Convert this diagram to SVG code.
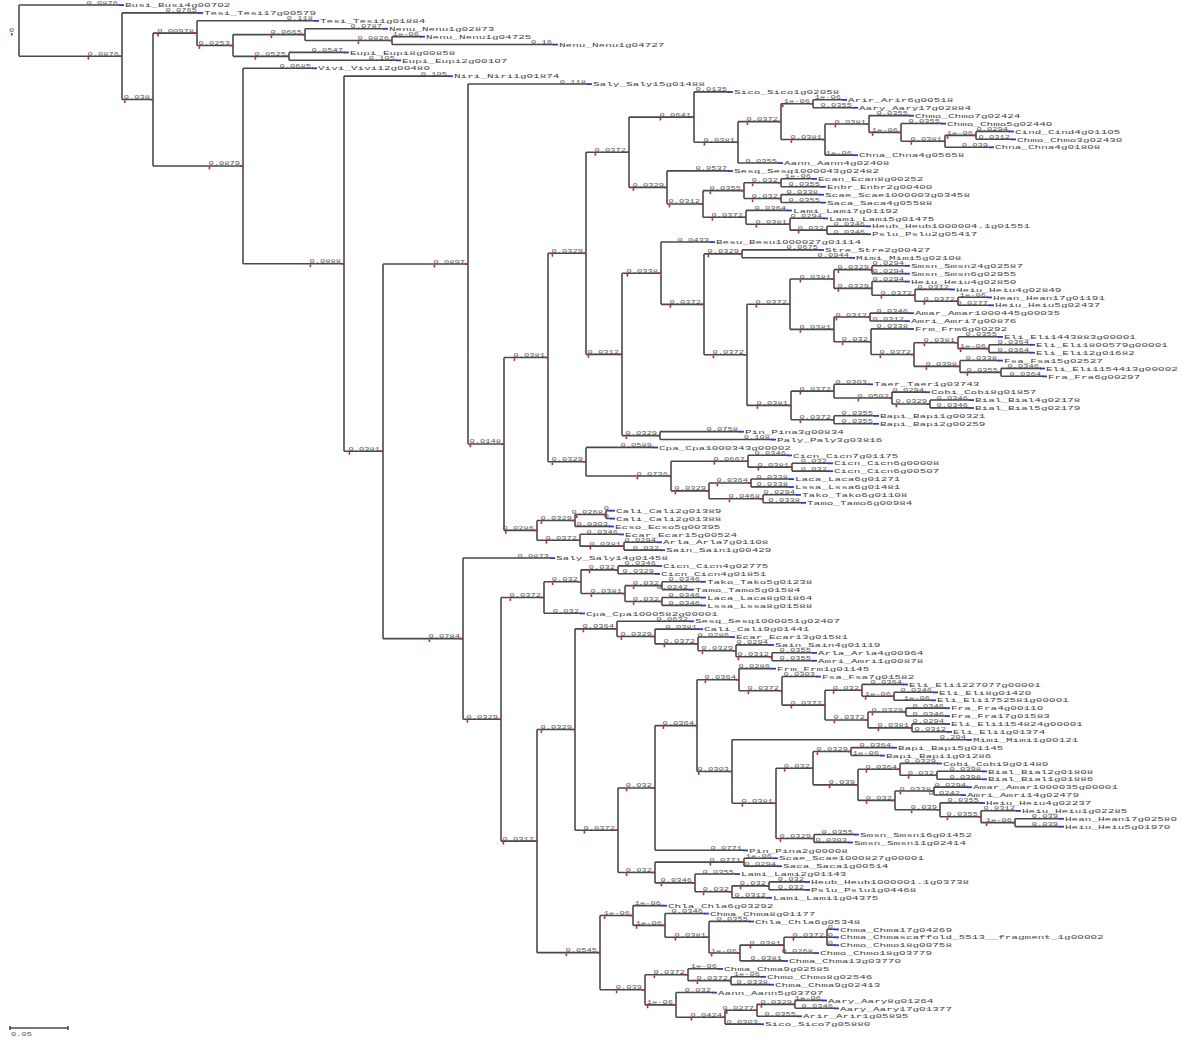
<svg xmlns="http://www.w3.org/2000/svg" width="1200" height="1040" viewBox="0 0 1200 1040">
<style>
.br{fill:none;stroke:#4a4a4a;stroke-width:1.6}
.b{font-family:"Liberation Mono",monospace;font-size:4.6px;fill:#555;text-anchor:end}
.s{text-anchor:start}
.t{font-family:"Liberation Mono",monospace;font-size:5px;fill:#444}
</style>
<defs>
<rect id="bm" width="5" height="1.8" fill="#2b3bd1"/>
<rect id="rj" width="2.5" height="1.6" fill="#d42020"/>
<rect id="rs" width="1.6" height="2.6" fill="#d42020"/>
</defs>
<rect width="1200" height="1040" fill="#fff"/>
<g id="connectors" class="br">
<path d="M19 5V56.2M19 5H120M19 56.2H122M122 12.9V99.55M122 12.9H199M122 99.55H153M153 33.15V165.95M153 33.15H197M197 20.8V45.5M197 20.8H315M197 45.5H233M233 34.6V56.35M233 34.6H305M305 28.7V40.55M305 28.7H384M305 40.55H392M392 36.6V44.5M392 36.6H421M392 44.5H554M233 56.35H289M289 52.4V60.3M289 52.4H345M289 60.3H397M153 165.95H243M243 68.2V263.7M243 68.2H313M243 263.7H344M344 76.1V451.3M344 76.1H449M344 451.3H383M383 264V638.65M383 264H468M468 84V443.95M468 84H588M468 443.95H504M504 357.5V530.4M504 357.5H548M548 253.3V461.7M548 253.3H586M586 152.25V354.4"/>
<path d="M586 152.25H629M629 117.1V187.4M629 117.1H694M694 91.9V142.3M694 91.9H729M694 142.3H738M738 121.65V163M738 121.65H781M781 103.75V139.55M781 103.75H813M813 99.8V107.7M813 99.8H843M813 107.7H854M781 139.55H825M825 124V155.1M825 124H869M869 115.6V132.4M869 115.6H910M869 132.4H901M901 123.5V141.3M901 123.5H942M901 141.3H945M945 135.35V147.2M945 135.35H976M976 131.4V139.3M976 131.4H1010M976 139.3H1012M945 147.2H990M825 155.1H854M738 163H779M629 187.4H667M667 170.9V203.95M667 170.9H729M667 203.95H703M703 190.65V217.3M703 190.65H744M744 182.75V198.55M744 182.75H781M781 178.8V186.7M781 178.8H813M781 186.7H822M744 198.55H781M781 194.6V202.5M781 194.6H820M781 202.5H822M703 217.3H746M746 210.4V224.2M746 210.4H788M746 224.2H790M790 218.3V230.15M790 218.3H824M790 230.15H827M827 226.2V234.1M827 226.2H867M827 234.1H867"/>
<path d="M586 354.4H622M622 273.2V435.6M622 273.2H661M661 242V304.35M661 242H711M661 304.35H704M704 253.9V354.8M704 253.9H742M742 249.9V257.8M742 249.9H820M742 257.8H851M704 354.8H747M747 304.2V405.4M747 304.2H790M790 279V329.4M790 279H834M834 269.65V288.4M834 269.65H872M872 265.7V273.6M872 265.7H906M872 273.6H906M834 288.4H872M872 281.5V295.3M872 281.5H906M872 295.3H915M915 289.4V301.25M915 289.4H951M915 301.25H958M958 297.3V305.2M958 297.3H988M958 305.2H990M790 329.4H834M834 317.05V341.7M834 317.05H870M870 313.1V321M870 313.1H910M870 321H906M834 341.7H871M871 328.9V354.55M871 328.9H910M871 354.55H914M914 342.7V366.4M914 342.7H958M958 336.8V348.65M958 336.8H999M958 348.65H989M989 344.7V352.6M989 344.7H1031M989 352.6H1031M914 366.4H960M960 360.5V372.35M960 360.5H999M960 372.35H1001M1001 368.4V376.3M1001 368.4H1041M1001 376.3H1043M747 405.4H791M791 391.1V419.75M791 391.1H834M834 384.2V398M834 384.2H869M834 398H892M892 392.1V403.95M892 392.1H926M892 403.95H930M930 400V407.9M930 400H970M930 407.9H970M791 419.75H834M834 415.8V423.7M834 415.8H875M834 423.7H875M622 435.6H660M660 431.6V439.5M660 431.6H740M660 439.5H772"/>
<path d="M548 461.7H586M586 447.4V476M586 447.4H654M586 476H671M671 461.2V490.85M671 461.2H748M748 455.3V467.15M748 455.3H788M748 467.15H792M792 463.2V471.1M792 463.2H829M792 471.1H829M671 490.85H709M709 482.95V498.75M709 482.95H751M751 479V486.9M751 479H790M751 486.9H790M709 498.75H763M763 494.8V502.7M763 494.8H797M763 502.7H802M504 530.4H537M537 520.5V540.2M537 520.5H575M575 514.55V526.4M575 514.55H606M606 510.6V518.5M606 510.6H611M606 518.5H611M575 526.4H610M537 540.2H580M580 534.3V546.15M580 534.3H620M580 546.15H624M624 542.2V550.1M624 542.2H658M624 550.1H661"/>
<path d="M383 638.65H463M463 558V719.3M463 558H551M463 719.3H501M501 597.5V841.1M501 597.5H544M544 581.7V613.3M544 581.7H581M581 569.85V593.55M581 569.85H618M618 565.9V573.8M618 565.9H658M618 573.8H656M581 593.55H625M625 585.65V601.45M625 585.65H662M662 581.7V589.6M662 581.7H702M662 589.6H690M625 601.45H662M662 597.5V605.4M662 597.5H702M662 605.4H702M544 613.3H581M501 841.1H537M537 729.5V952.65M537 729.5H575M575 628.85V830.2M575 628.85H617M617 621.2V636.5M617 621.2H690M617 636.5H655M655 629.1V643.9M655 629.1H699M655 643.9H698M698 637V650.8M698 637H731M698 650.8H736M736 644.9V656.75M736 644.9H770M736 656.75H772M772 652.8V660.7M772 652.8H813M772 660.7H813"/>
<path d="M575 830.2H618M618 787.95V872.5M618 787.95H655M655 725.6V850.3M655 725.6H697M697 679.7V771.5M697 679.7H739M739 668.6V690.8M739 668.6H772M739 690.8H782M782 676.5V705.1M782 676.5H817M782 705.1H825M825 690.3V719.95M825 690.3H862M862 684.4V696.25M862 684.4H904M862 696.25H894M894 692.3V700.2M894 692.3H934M894 700.2H932M825 719.95H868M868 712.05V727.85M868 712.05H906M906 708.1V716M906 708.1H946M906 716H946M868 727.85H912M912 723.9V731.8M912 723.9H946M912 731.8H948M697 771.5H732M732 739.7V803.3M732 739.7H968M732 803.3H776M776 768.2V838.45M776 768.2H813M813 751.55V784.85M813 751.55H851M851 747.6V755.5M851 747.6H893M851 755.5H881M813 784.85H858M858 769.3V800.4M858 769.3H900M900 763.4V775.25M900 763.4H938M900 775.25H937M937 771.3V779.2M937 771.3H983M937 779.2H983M858 800.4H895M895 791.05V809.8M895 791.05H934M934 787.1V795M934 787.1H968M934 795H962M895 809.8H940M940 802.9V816.7M940 802.9H981M940 816.7H981M981 810.8V822.65M981 810.8H1017M981 822.65H1015M1015 818.7V826.6M1015 818.7H1060M1015 826.6H1060M776 838.45H814M814 834.5V842.4M814 834.5H855M814 842.4H849M655 850.3H744"/>
<path d="M618 872.5H655M655 862.15V882.9M655 862.15H744M744 858.2V866.1M744 858.2H774M744 866.1H778M655 882.9H695M695 874V891.8M695 874H736M695 891.8H732M732 885.85V897.7M732 885.85H769M769 881.9V889.8M769 881.9H806M769 889.8H806M732 897.7H768"/>
<path d="M537 952.65H600M600 915.5V989.8M600 915.5H633M633 905.6V925.35M633 905.6H663M633 925.35H665M665 913.5V937.2M665 913.5H705M665 937.2H709M709 921.4V953M709 921.4H750M709 953H740M740 945.1V960.9M740 945.1H784M784 937.2V953M784 937.2H827M827 929.3V945.1M827 929.3H835M827 937.2H835M827 945.1H835M784 953H815M740 960.9H784M600 989.8H645M645 974.7V1004.85M645 974.7H688M688 968.8V980.65M688 968.8H719M688 980.65H731M731 976.7V984.6M731 976.7H762M731 984.6H770M645 1004.85H676M676 992.5V1017.2M676 992.5H713M676 1017.2H725M725 1010.3V1024.1M725 1010.3H757M757 1004.35V1016.2M757 1004.35H795M795 1000.4V1008.3M795 1000.4H823M795 1008.3H835M757 1016.2H798M725 1024.1H760"/>
</g>
<g id="root"><text class="b s" transform="matrix(1.9 0 0 1 9 32)">0</text><use href="#rs" x="11" y="33"/></g>
<g id="l1"><text class="b" transform="matrix(1.9 0 0 1 118 4.5)">0.0876</text><use href="#bm" x="119" y="4.2"/><text class="t" transform="matrix(2.2 0 0 1 125 7.2)">Busi_Busi4g00702</text></g>
<g id="nB"><text class="b" transform="matrix(1.9 0 0 1 119 55.7)">0.0876</text><use href="#rs" x="87.6" y="57"/><use href="#rj" x="119" y="55.4"/></g>
<g id="l2"><text class="b" transform="matrix(1.9 0 0 1 197 12.4)">0.0765</text><use href="#bm" x="198" y="12.1"/><text class="t" transform="matrix(2.2 0 0 1 204 15.1)">Tesi_Tesi17g00579</text></g>
<g id="nC"><text class="b" transform="matrix(1.9 0 0 1 150 99.05)">0.038</text><use href="#rs" x="124" y="100.35"/><use href="#rj" x="150" y="98.75"/></g>
<g id="nD"><text class="b" transform="matrix(1.9 0 0 1 194 32.65)">0.00978</text><use href="#rs" x="157.3" y="33.95"/><use href="#rj" x="194" y="32.35"/></g>
<g id="l3"><text class="b" transform="matrix(1.9 0 0 1 313 20.3)">0.118</text><use href="#bm" x="314" y="20"/><text class="t" transform="matrix(2.2 0 0 1 320 23)">Tesi_Tesi1g01884</text></g>
<g id="nF"><text class="b" transform="matrix(1.9 0 0 1 230 45)">0.0253</text><use href="#rs" x="198.6" y="46.3"/><use href="#rj" x="230" y="44.7"/></g>
<g id="nG"><text class="b" transform="matrix(1.9 0 0 1 302 34.1)">0.0665</text><use href="#rs" x="270.6" y="35.4"/><use href="#rj" x="302" y="33.8"/></g>
<g id="l4"><text class="b" transform="matrix(1.9 0 0 1 382 28.2)">0.0787</text><use href="#bm" x="383" y="27.9"/><text class="t" transform="matrix(2.2 0 0 1 389 30.9)">Nenu_Nenu1g02873</text></g>
<g id="nI"><text class="b" transform="matrix(1.9 0 0 1 389 40.05)">0.0826</text><use href="#rs" x="357.6" y="41.35"/><use href="#rj" x="389" y="39.75"/></g>
<g id="l5"><text class="b" transform="matrix(1.9 0 0 1 419 36.1)">1e-06</text><use href="#bm" x="420" y="35.8"/><text class="t" transform="matrix(2.2 0 0 1 426 38.8)">Nenu_Nenu1g04725</text></g>
<g id="l6"><text class="b" transform="matrix(1.9 0 0 1 552 44)">0.16</text><use href="#bm" x="553" y="43.7"/><text class="t" transform="matrix(2.2 0 0 1 559 46.7)">Nenu_Nenu1g04727</text></g>
<g id="nH"><text class="b" transform="matrix(1.9 0 0 1 286 55.85)">0.0525</text><use href="#rs" x="254.6" y="57.15"/><use href="#rj" x="286" y="55.55"/></g>
<g id="l7"><text class="b" transform="matrix(1.9 0 0 1 343 51.9)">0.0547</text><use href="#bm" x="344" y="51.6"/><text class="t" transform="matrix(2.2 0 0 1 350 54.6)">Eupi_Eupi8g00858</text></g>
<g id="l8"><text class="b" transform="matrix(1.9 0 0 1 395 59.8)">0.105</text><use href="#bm" x="396" y="59.5"/><text class="t" transform="matrix(2.2 0 0 1 402 62.5)">Eupi_Eupi2g00107</text></g>
<g id="nE"><text class="b" transform="matrix(1.9 0 0 1 240 165.45)">0.0879</text><use href="#rs" x="208.6" y="166.75"/><use href="#rj" x="240" y="165.15"/></g>
<g id="l9"><text class="b" transform="matrix(1.9 0 0 1 311 67.7)">0.0685</text><use href="#bm" x="312" y="67.4"/><text class="t" transform="matrix(2.2 0 0 1 318 70.4)">Vivi_Vivi12g00480</text></g>
<g id="nJ"><text class="b" transform="matrix(1.9 0 0 1 341 263.2)">0.0888</text><use href="#rs" x="309.6" y="264.5"/><use href="#rj" x="341" y="262.9"/></g>
<g id="l10"><text class="b" transform="matrix(1.9 0 0 1 447 75.6)">0.105</text><use href="#bm" x="448" y="75.3"/><text class="t" transform="matrix(2.2 0 0 1 454 78.3)">Niri_Niri1g01874</text></g>
<g id="nK"><text class="b" transform="matrix(1.9 0 0 1 380 450.8)">0.0381</text><use href="#rs" x="348.6" y="452.1"/><use href="#rj" x="380" y="450.5"/></g>
<g id="nL"><text class="b" transform="matrix(1.9 0 0 1 465 263.5)">0.0897</text><use href="#rs" x="433.6" y="264.8"/><use href="#rj" x="465" y="263.2"/></g>
<g id="l11"><text class="b" transform="matrix(1.9 0 0 1 586 83.5)">0.118</text><use href="#bm" x="587" y="83.2"/><text class="t" transform="matrix(2.2 0 0 1 593 86.2)">Saly_Saly15g01488</text></g>
<g id="nN"><text class="b" transform="matrix(1.9 0 0 1 501 443.45)">0.0148</text><use href="#rs" x="469.6" y="444.75"/><use href="#rj" x="501" y="443.15"/></g>
<g id="nO"><text class="b" transform="matrix(1.9 0 0 1 545 357)">0.0381</text><use href="#rs" x="513.6" y="358.3"/><use href="#rj" x="545" y="356.7"/></g>
<g id="nQ"><text class="b" transform="matrix(1.9 0 0 1 583 252.8)">0.0329</text><use href="#rs" x="551.6" y="254.1"/><use href="#rj" x="583" y="252.5"/></g>
<g id="nT"><text class="b" transform="matrix(1.9 0 0 1 626 151.75)">0.0372</text><use href="#rs" x="594.6" y="153.05"/><use href="#rj" x="626" y="151.45"/></g>
<g id="nV"><text class="b" transform="matrix(1.9 0 0 1 691 116.6)">0.0641</text><use href="#rs" x="659.6" y="117.9"/><use href="#rj" x="691" y="116.3"/></g>
<g id="l12"><text class="b" transform="matrix(1.9 0 0 1 727 91.4)">0.0135</text><use href="#bm" x="728" y="91.1"/><text class="t" transform="matrix(2.2 0 0 1 734 94.1)">Sico_Sico1g02058</text></g>
<g id="nX"><text class="b" transform="matrix(1.9 0 0 1 735 141.8)">0.0381</text><use href="#rs" x="703.6" y="143.1"/><use href="#rj" x="735" y="141.5"/></g>
<g id="nY"><text class="b" transform="matrix(1.9 0 0 1 778 121.15)">0.0372</text><use href="#rs" x="746.6" y="122.45"/><use href="#rj" x="778" y="120.85"/></g>
<g id="nZ"><text class="b" transform="matrix(1.9 0 0 1 810 103.25)">1e-06</text><use href="#rs" x="782" y="104.55"/><use href="#rj" x="810" y="102.95"/></g>
<g id="l13"><text class="b" transform="matrix(1.9 0 0 1 841 99.3)">1e-06</text><use href="#bm" x="842" y="99"/><text class="t" transform="matrix(2.2 0 0 1 848 102)">Arir_Arir6g00518</text></g>
<g id="l14"><text class="b" transform="matrix(1.9 0 0 1 852 107.2)">0.0355</text><use href="#bm" x="853" y="106.9"/><text class="t" transform="matrix(2.2 0 0 1 859 109.9)">Aary_Aary17g02884</text></g>
<g id="nAA"><text class="b" transform="matrix(1.9 0 0 1 822 139.05)">0.0381</text><use href="#rs" x="790.6" y="140.35"/><use href="#rj" x="822" y="138.75"/></g>
<g id="nAB"><text class="b" transform="matrix(1.9 0 0 1 866 123.5)">0.0381</text><use href="#rs" x="834.6" y="124.8"/><use href="#rj" x="866" y="123.2"/></g>
<g id="l15"><text class="b" transform="matrix(1.9 0 0 1 908 115.1)">0.0355</text><use href="#bm" x="909" y="114.8"/><text class="t" transform="matrix(2.2 0 0 1 915 117.8)">Chmo_Chmo7g02424</text></g>
<g id="nAC"><text class="b" transform="matrix(1.9 0 0 1 898 131.9)">1e-06</text><use href="#rs" x="871.8" y="133.2"/><use href="#rj" x="898" y="131.6"/></g>
<g id="l16"><text class="b" transform="matrix(1.9 0 0 1 940 123)">0.0355</text><use href="#bm" x="941" y="122.7"/><text class="t" transform="matrix(2.2 0 0 1 947 125.7)">Chmo_Chmo5g02440</text></g>
<g id="nAD"><text class="b" transform="matrix(1.9 0 0 1 942 140.8)">0.0381</text><use href="#rs" x="910.6" y="142.1"/><use href="#rj" x="942" y="140.5"/></g>
<g id="nAE"><text class="b" transform="matrix(1.9 0 0 1 973 134.85)">1e-06</text><use href="#rs" x="946.8" y="136.15"/><use href="#rj" x="973" y="134.55"/></g>
<g id="l17"><text class="b" transform="matrix(1.9 0 0 1 1008 130.9)">0.0294</text><use href="#bm" x="1009" y="130.6"/><text class="t" transform="matrix(2.2 0 0 1 1015 133.6)">Cind_Cind4g01105</text></g>
<g id="l18"><text class="b" transform="matrix(1.9 0 0 1 1010 138.8)">0.0312</text><use href="#bm" x="1011" y="138.5"/><text class="t" transform="matrix(2.2 0 0 1 1017 141.5)">Chmo_Chmo3g02430</text></g>
<g id="l19"><text class="b" transform="matrix(1.9 0 0 1 988 146.7)">0.039</text><use href="#bm" x="989" y="146.4"/><text class="t" transform="matrix(2.2 0 0 1 995 149.4)">Chna_Chna4g01808</text></g>
<g id="l20"><text class="b" transform="matrix(1.9 0 0 1 852 154.6)">1e-06</text><use href="#bm" x="853" y="154.3"/><text class="t" transform="matrix(2.2 0 0 1 859 157.3)">Chna_Chna4g05658</text></g>
<g id="l21"><text class="b" transform="matrix(1.9 0 0 1 777 162.5)">0.0355</text><use href="#bm" x="778" y="162.2"/><text class="t" transform="matrix(2.2 0 0 1 784 165.2)">Aann_Aann4g02408</text></g>
<g id="nW"><text class="b" transform="matrix(1.9 0 0 1 664 186.9)">0.0329</text><use href="#rs" x="632.6" y="188.2"/><use href="#rj" x="664" y="186.6"/></g>
<g id="l22"><text class="b" transform="matrix(1.9 0 0 1 727 170.4)">0.0537</text><use href="#bm" x="728" y="170.1"/><text class="t" transform="matrix(2.2 0 0 1 734 173.1)">Sesq_Sesq1000043g02482</text></g>
<g id="nWA"><text class="b" transform="matrix(1.9 0 0 1 700 203.45)">0.0312</text><use href="#rs" x="668.6" y="204.75"/><use href="#rj" x="700" y="203.15"/></g>
<g id="nEE"><text class="b" transform="matrix(1.9 0 0 1 741 190.15)">0.0355</text><use href="#rs" x="709.6" y="191.45"/><use href="#rj" x="741" y="189.85"/></g>
<g id="nEN"><text class="b" transform="matrix(1.9 0 0 1 778 182.25)">0.032</text><use href="#rs" x="751.8" y="183.55"/><use href="#rj" x="778" y="181.95"/></g>
<g id="l23"><text class="b" transform="matrix(1.9 0 0 1 811 178.3)">1e-06</text><use href="#bm" x="812" y="178"/><text class="t" transform="matrix(2.2 0 0 1 818 181)">Ecan_Ecan8g00252</text></g>
<g id="l24"><text class="b" transform="matrix(1.9 0 0 1 820 186.2)">0.0355</text><use href="#bm" x="821" y="185.9"/><text class="t" transform="matrix(2.2 0 0 1 827 188.9)">Enbr_Enbr2g00400</text></g>
<g id="nSS"><text class="b" transform="matrix(1.9 0 0 1 778 198.05)">0.032</text><use href="#rs" x="751.8" y="199.35"/><use href="#rj" x="778" y="197.75"/></g>
<g id="l25"><text class="b" transform="matrix(1.9 0 0 1 818 194.1)">0.0338</text><use href="#bm" x="819" y="193.8"/><text class="t" transform="matrix(2.2 0 0 1 825 196.8)">Scae_Scae1000003g03458</text></g>
<g id="l26"><text class="b" transform="matrix(1.9 0 0 1 820 202)">0.0355</text><use href="#bm" x="821" y="201.7"/><text class="t" transform="matrix(2.2 0 0 1 827 204.7)">Saca_Saca4g05588</text></g>
<g id="nLN"><text class="b" transform="matrix(1.9 0 0 1 743 216.8)">0.0372</text><use href="#rs" x="711.6" y="218.1"/><use href="#rj" x="743" y="216.5"/></g>
<g id="l27"><text class="b" transform="matrix(1.9 0 0 1 786 209.9)">0.0364</text><use href="#bm" x="787" y="209.6"/><text class="t" transform="matrix(2.2 0 0 1 793 212.6)">Lami_Lami7g01192</text></g>
<g id="nLM"><text class="b" transform="matrix(1.9 0 0 1 787 223.7)">0.0381</text><use href="#rs" x="755.6" y="225"/><use href="#rj" x="787" y="223.4"/></g>
<g id="l28"><text class="b" transform="matrix(1.9 0 0 1 822 217.8)">0.0294</text><use href="#bm" x="823" y="217.5"/><text class="t" transform="matrix(2.2 0 0 1 829 220.5)">Lami_Lami5g01475</text></g>
<g id="nHP"><text class="b" transform="matrix(1.9 0 0 1 824 229.65)">0.032</text><use href="#rs" x="797.8" y="230.95"/><use href="#rj" x="824" y="229.35"/></g>
<g id="l29"><text class="b" transform="matrix(1.9 0 0 1 865 225.7)">0.0346</text><use href="#bm" x="866" y="225.4"/><text class="t" transform="matrix(2.2 0 0 1 872 228.4)">Heub_Heub1000004.1g01551</text></g>
<g id="l30"><text class="b" transform="matrix(1.9 0 0 1 865 233.6)">0.0346</text><use href="#bm" x="866" y="233.3"/><text class="t" transform="matrix(2.2 0 0 1 872 236.3)">Pslu_Pslu2g05417</text></g>
<g id="nU"><text class="b" transform="matrix(1.9 0 0 1 619 353.9)">0.0312</text><use href="#rs" x="587.6" y="355.2"/><use href="#rj" x="619" y="353.6"/></g>
<g id="nUA"><text class="b" transform="matrix(1.9 0 0 1 658 272.7)">0.0338</text><use href="#rs" x="626.6" y="274"/><use href="#rj" x="658" y="272.4"/></g>
<g id="l31"><text class="b" transform="matrix(1.9 0 0 1 709 241.5)">0.0433</text><use href="#bm" x="710" y="241.2"/><text class="t" transform="matrix(2.2 0 0 1 716 244.2)">Besu_Besu1000027g01114</text></g>
<g id="nUB"><text class="b" transform="matrix(1.9 0 0 1 701 303.85)">0.0372</text><use href="#rs" x="669.6" y="305.15"/><use href="#rj" x="701" y="303.55"/></g>
<g id="nUC"><text class="b" transform="matrix(1.9 0 0 1 739 253.4)">0.0329</text><use href="#rs" x="707.6" y="254.7"/><use href="#rj" x="739" y="253.1"/></g>
<g id="l32"><text class="b" transform="matrix(1.9 0 0 1 818 249.4)">0.0675</text><use href="#bm" x="819" y="249.1"/><text class="t" transform="matrix(2.2 0 0 1 825 252.1)">Stre_Stre2g00427</text></g>
<g id="l33"><text class="b" transform="matrix(1.9 0 0 1 849 257.3)">0.0944</text><use href="#bm" x="850" y="257"/><text class="t" transform="matrix(2.2 0 0 1 856 260)">Mimi_Mimi5g02108</text></g>
<g id="nUD"><text class="b" transform="matrix(1.9 0 0 1 744 354.3)">0.0372</text><use href="#rs" x="712.6" y="355.6"/><use href="#rj" x="744" y="354"/></g>
<g id="nUE"><text class="b" transform="matrix(1.9 0 0 1 787 303.7)">0.0372</text><use href="#rs" x="755.6" y="305"/><use href="#rj" x="787" y="303.4"/></g>
<g id="nUG"><text class="b" transform="matrix(1.9 0 0 1 831 278.5)">0.0381</text><use href="#rs" x="799.6" y="279.8"/><use href="#rj" x="831" y="278.2"/></g>
<g id="nUI"><text class="b" transform="matrix(1.9 0 0 1 869 269.15)">0.0329</text><use href="#rs" x="837.6" y="270.45"/><use href="#rj" x="869" y="268.85"/></g>
<g id="l34"><text class="b" transform="matrix(1.9 0 0 1 904 265.2)">0.0294</text><use href="#bm" x="905" y="264.9"/><text class="t" transform="matrix(2.2 0 0 1 911 267.9)">Smsn_Smsn24g02587</text></g>
<g id="l35"><text class="b" transform="matrix(1.9 0 0 1 904 273.1)">0.0294</text><use href="#bm" x="905" y="272.8"/><text class="t" transform="matrix(2.2 0 0 1 911 275.8)">Smsn_Smsn6g02955</text></g>
<g id="nUJ"><text class="b" transform="matrix(1.9 0 0 1 869 287.9)">0.0329</text><use href="#rs" x="837.6" y="289.2"/><use href="#rj" x="869" y="287.6"/></g>
<g id="l36"><text class="b" transform="matrix(1.9 0 0 1 904 281)">0.0294</text><use href="#bm" x="905" y="280.7"/><text class="t" transform="matrix(2.2 0 0 1 911 283.7)">Heiu_Heiu4g02850</text></g>
<g id="nUK"><text class="b" transform="matrix(1.9 0 0 1 912 294.8)">0.0372</text><use href="#rs" x="880.6" y="296.1"/><use href="#rj" x="912" y="294.5"/></g>
<g id="l37"><text class="b" transform="matrix(1.9 0 0 1 949 288.9)">0.0312</text><use href="#bm" x="950" y="288.6"/><text class="t" transform="matrix(2.2 0 0 1 956 291.6)">Heiu_Heiu4g02849</text></g>
<g id="nUL"><text class="b" transform="matrix(1.9 0 0 1 955 300.75)">0.0372</text><use href="#rs" x="923.6" y="302.05"/><use href="#rj" x="955" y="300.45"/></g>
<g id="l38"><text class="b" transform="matrix(1.9 0 0 1 986 296.8)">1e-06</text><use href="#bm" x="987" y="296.5"/><text class="t" transform="matrix(2.2 0 0 1 993 299.5)">Hean_Hean17g01191</text></g>
<g id="l39"><text class="b" transform="matrix(1.9 0 0 1 988 304.7)">0.0277</text><use href="#bm" x="989" y="304.4"/><text class="t" transform="matrix(2.2 0 0 1 995 307.4)">Heiu_Heiu5g02437</text></g>
<g id="nUH"><text class="b" transform="matrix(1.9 0 0 1 831 328.9)">0.0381</text><use href="#rs" x="799.6" y="330.2"/><use href="#rj" x="831" y="328.6"/></g>
<g id="nUM"><text class="b" transform="matrix(1.9 0 0 1 867 316.55)">0.0312</text><use href="#rs" x="835.6" y="317.85"/><use href="#rj" x="867" y="316.25"/></g>
<g id="l40"><text class="b" transform="matrix(1.9 0 0 1 908 312.6)">0.0346</text><use href="#bm" x="909" y="312.3"/><text class="t" transform="matrix(2.2 0 0 1 915 315.3)">Amar_Amar1000445g00035</text></g>
<g id="l41"><text class="b" transform="matrix(1.9 0 0 1 904 320.5)">0.0312</text><use href="#bm" x="905" y="320.2"/><text class="t" transform="matrix(2.2 0 0 1 911 323.2)">Amri_Amri7g00876</text></g>
<g id="nUN"><text class="b" transform="matrix(1.9 0 0 1 868 341.2)">0.032</text><use href="#rs" x="841.8" y="342.5"/><use href="#rj" x="868" y="340.9"/></g>
<g id="l42"><text class="b" transform="matrix(1.9 0 0 1 908 328.4)">0.0338</text><use href="#bm" x="909" y="328.1"/><text class="t" transform="matrix(2.2 0 0 1 915 331.1)">Frm_Frm6g00292</text></g>
<g id="nUO"><text class="b" transform="matrix(1.9 0 0 1 911 354.05)">0.0372</text><use href="#rs" x="879.6" y="355.35"/><use href="#rj" x="911" y="353.75"/></g>
<g id="nUP"><text class="b" transform="matrix(1.9 0 0 1 955 342.2)">0.0381</text><use href="#rs" x="923.6" y="343.5"/><use href="#rj" x="955" y="341.9"/></g>
<g id="l43"><text class="b" transform="matrix(1.9 0 0 1 997 336.3)">0.0355</text><use href="#bm" x="998" y="336"/><text class="t" transform="matrix(2.2 0 0 1 1004 339)">Eli_Eli1443883g00001</text></g>
<g id="nUR"><text class="b" transform="matrix(1.9 0 0 1 986 348.15)">1e-06</text><use href="#rs" x="959.8" y="349.45"/><use href="#rj" x="986" y="347.85"/></g>
<g id="l44"><text class="b" transform="matrix(1.9 0 0 1 1029 344.2)">0.0364</text><use href="#bm" x="1030" y="343.9"/><text class="t" transform="matrix(2.2 0 0 1 1036 346.9)">Eli_Eli1800579g00001</text></g>
<g id="l45"><text class="b" transform="matrix(1.9 0 0 1 1029 352.1)">0.0364</text><use href="#bm" x="1030" y="351.8"/><text class="t" transform="matrix(2.2 0 0 1 1036 354.8)">Eli_Eli12g01682</text></g>
<g id="nUQ"><text class="b" transform="matrix(1.9 0 0 1 957 365.9)">0.0398</text><use href="#rs" x="925.6" y="367.2"/><use href="#rj" x="957" y="365.6"/></g>
<g id="l46"><text class="b" transform="matrix(1.9 0 0 1 997 360)">0.0338</text><use href="#bm" x="998" y="359.7"/><text class="t" transform="matrix(2.2 0 0 1 1004 362.7)">Fsa_Fsa15g02527</text></g>
<g id="nUS"><text class="b" transform="matrix(1.9 0 0 1 998 371.85)">0.0355</text><use href="#rs" x="966.6" y="373.15"/><use href="#rj" x="998" y="371.55"/></g>
<g id="l47"><text class="b" transform="matrix(1.9 0 0 1 1039 367.9)">0.0346</text><use href="#bm" x="1040" y="367.6"/><text class="t" transform="matrix(2.2 0 0 1 1046 370.6)">Eli_Eli1154413g00002</text></g>
<g id="l48"><text class="b" transform="matrix(1.9 0 0 1 1041 375.8)">0.0364</text><use href="#bm" x="1042" y="375.5"/><text class="t" transform="matrix(2.2 0 0 1 1048 378.5)">Fra_Fra6g00297</text></g>
<g id="nUF"><text class="b" transform="matrix(1.9 0 0 1 788 404.9)">0.0381</text><use href="#rs" x="756.6" y="406.2"/><use href="#rj" x="788" y="404.6"/></g>
<g id="nUT"><text class="b" transform="matrix(1.9 0 0 1 831 390.6)">0.0372</text><use href="#rs" x="799.6" y="391.9"/><use href="#rj" x="831" y="390.3"/></g>
<g id="l49"><text class="b" transform="matrix(1.9 0 0 1 867 383.7)">0.0303</text><use href="#bm" x="868" y="383.4"/><text class="t" transform="matrix(2.2 0 0 1 874 386.4)">Taer_Taer1g03743</text></g>
<g id="nUV"><text class="b" transform="matrix(1.9 0 0 1 889 397.5)">0.0502</text><use href="#rs" x="857.6" y="398.8"/><use href="#rj" x="889" y="397.2"/></g>
<g id="l50"><text class="b" transform="matrix(1.9 0 0 1 924 391.6)">0.0294</text><use href="#bm" x="925" y="391.3"/><text class="t" transform="matrix(2.2 0 0 1 931 394.3)">Cobi_Cobi8g01857</text></g>
<g id="nUW"><text class="b" transform="matrix(1.9 0 0 1 927 403.45)">0.0329</text><use href="#rs" x="895.6" y="404.75"/><use href="#rj" x="927" y="403.15"/></g>
<g id="l51"><text class="b" transform="matrix(1.9 0 0 1 968 399.5)">0.0346</text><use href="#bm" x="969" y="399.2"/><text class="t" transform="matrix(2.2 0 0 1 975 402.2)">Bial_Bial4g02178</text></g>
<g id="l52"><text class="b" transform="matrix(1.9 0 0 1 968 407.4)">0.0346</text><use href="#bm" x="969" y="407.1"/><text class="t" transform="matrix(2.2 0 0 1 975 410.1)">Bial_Bial5g02179</text></g>
<g id="nUU"><text class="b" transform="matrix(1.9 0 0 1 831 419.25)">0.0372</text><use href="#rs" x="799.6" y="420.55"/><use href="#rj" x="831" y="418.95"/></g>
<g id="l53"><text class="b" transform="matrix(1.9 0 0 1 873 415.3)">0.0355</text><use href="#bm" x="874" y="415"/><text class="t" transform="matrix(2.2 0 0 1 880 418)">Bapi_Bapi1g00321</text></g>
<g id="l54"><text class="b" transform="matrix(1.9 0 0 1 873 423.2)">0.0355</text><use href="#bm" x="874" y="422.9"/><text class="t" transform="matrix(2.2 0 0 1 880 425.9)">Bapi_Bapi2g00259</text></g>
<g id="nPP"><text class="b" transform="matrix(1.9 0 0 1 657 435.1)">0.0329</text><use href="#rs" x="625.6" y="436.4"/><use href="#rj" x="657" y="434.8"/></g>
<g id="l55"><text class="b" transform="matrix(1.9 0 0 1 738 431.1)">0.0758</text><use href="#bm" x="739" y="430.8"/><text class="t" transform="matrix(2.2 0 0 1 745 433.8)">Pin_Pina3g00834</text></g>
<g id="l56"><text class="b" transform="matrix(1.9 0 0 1 770 439)">0.108</text><use href="#bm" x="771" y="438.7"/><text class="t" transform="matrix(2.2 0 0 1 777 441.7)">Paly_Paly3g03816</text></g>
<g id="nS"><text class="b" transform="matrix(1.9 0 0 1 583 461.2)">0.0329</text><use href="#rs" x="551.6" y="462.5"/><use href="#rj" x="583" y="460.9"/></g>
<g id="l57"><text class="b" transform="matrix(1.9 0 0 1 652 446.9)">0.0589</text><use href="#bm" x="653" y="446.6"/><text class="t" transform="matrix(2.2 0 0 1 659 449.6)">Cpa_Cpa1000343g00002</text></g>
<g id="nSA"><text class="b" transform="matrix(1.9 0 0 1 668 475.5)">0.0736</text><use href="#rs" x="636.6" y="476.8"/><use href="#rj" x="668" y="475.2"/></g>
<g id="nSB"><text class="b" transform="matrix(1.9 0 0 1 745 460.7)">0.0667</text><use href="#rs" x="713.6" y="462"/><use href="#rj" x="745" y="460.4"/></g>
<g id="l58"><text class="b" transform="matrix(1.9 0 0 1 786 454.8)">0.0346</text><use href="#bm" x="787" y="454.5"/><text class="t" transform="matrix(2.2 0 0 1 793 457.5)">Cicn_Cicn7g01175</text></g>
<g id="nSD"><text class="b" transform="matrix(1.9 0 0 1 789 466.65)">0.0381</text><use href="#rs" x="757.6" y="467.95"/><use href="#rj" x="789" y="466.35"/></g>
<g id="l59"><text class="b" transform="matrix(1.9 0 0 1 827 462.7)">0.032</text><use href="#bm" x="828" y="462.4"/><text class="t" transform="matrix(2.2 0 0 1 834 465.4)">Cicn_Cicn6g00008</text></g>
<g id="l60"><text class="b" transform="matrix(1.9 0 0 1 827 470.6)">0.032</text><use href="#bm" x="828" y="470.3"/><text class="t" transform="matrix(2.2 0 0 1 834 473.3)">Cicn_Cicn6g00507</text></g>
<g id="nSC"><text class="b" transform="matrix(1.9 0 0 1 706 490.35)">0.0329</text><use href="#rs" x="674.6" y="491.65"/><use href="#rj" x="706" y="490.05"/></g>
<g id="nSE"><text class="b" transform="matrix(1.9 0 0 1 748 482.45)">0.0364</text><use href="#rs" x="716.6" y="483.75"/><use href="#rj" x="748" y="482.15"/></g>
<g id="l61"><text class="b" transform="matrix(1.9 0 0 1 788 478.5)">0.0338</text><use href="#bm" x="789" y="478.2"/><text class="t" transform="matrix(2.2 0 0 1 795 481.2)">Laca_Laca6g01271</text></g>
<g id="l62"><text class="b" transform="matrix(1.9 0 0 1 788 486.4)">0.0338</text><use href="#bm" x="789" y="486.1"/><text class="t" transform="matrix(2.2 0 0 1 795 489.1)">Lssa_Lssa6g01481</text></g>
<g id="nSF"><text class="b" transform="matrix(1.9 0 0 1 760 498.25)">0.0468</text><use href="#rs" x="728.6" y="499.55"/><use href="#rj" x="760" y="497.95"/></g>
<g id="l63"><text class="b" transform="matrix(1.9 0 0 1 795 494.3)">0.0294</text><use href="#bm" x="796" y="494"/><text class="t" transform="matrix(2.2 0 0 1 802 497)">Tako_Tako6g01108</text></g>
<g id="l64"><text class="b" transform="matrix(1.9 0 0 1 800 502.2)">0.0338</text><use href="#bm" x="801" y="501.9"/><text class="t" transform="matrix(2.2 0 0 1 807 504.9)">Tamo_Tamo6g00984</text></g>
<g id="nP"><text class="b" transform="matrix(1.9 0 0 1 534 529.9)">0.0286</text><use href="#rs" x="505" y="531.2"/><use href="#rj" x="534" y="529.6"/></g>
<g id="nPA"><text class="b" transform="matrix(1.9 0 0 1 572 520)">0.0329</text><use href="#rs" x="540.6" y="521.3"/><use href="#rj" x="572" y="519.7"/></g>
<g id="nPC"><text class="b" transform="matrix(1.9 0 0 1 603 514.05)">0.0268</text><use href="#rs" x="576" y="515.35"/><use href="#rj" x="603" y="513.75"/></g>
<g id="l65"><text class="b" transform="matrix(1.9 0 0 1 609 510.1)">0</text><use href="#bm" x="610" y="509.8"/><text class="t" transform="matrix(2.2 0 0 1 616 512.8)">Cali_Cali2g01389</text></g>
<g id="l66"><text class="b" transform="matrix(1.9 0 0 1 609 518)">0</text><use href="#bm" x="610" y="517.7"/><text class="t" transform="matrix(2.2 0 0 1 616 520.7)">Cali_Cali2g01388</text></g>
<g id="l67"><text class="b" transform="matrix(1.9 0 0 1 608 525.9)">0.0303</text><use href="#bm" x="609" y="525.6"/><text class="t" transform="matrix(2.2 0 0 1 615 528.6)">Ecso_Ecso5g00395</text></g>
<g id="nPB"><text class="b" transform="matrix(1.9 0 0 1 577 539.7)">0.0372</text><use href="#rs" x="545.6" y="541"/><use href="#rj" x="577" y="539.4"/></g>
<g id="l68"><text class="b" transform="matrix(1.9 0 0 1 618 533.8)">0.0346</text><use href="#bm" x="619" y="533.5"/><text class="t" transform="matrix(2.2 0 0 1 625 536.5)">Ecar_Ecar15g00524</text></g>
<g id="nPD"><text class="b" transform="matrix(1.9 0 0 1 621 545.65)">0.0381</text><use href="#rs" x="589.6" y="546.95"/><use href="#rj" x="621" y="545.35"/></g>
<g id="l69"><text class="b" transform="matrix(1.9 0 0 1 656 541.7)">0.0294</text><use href="#bm" x="657" y="541.4"/><text class="t" transform="matrix(2.2 0 0 1 663 544.4)">Arla_Arla7g01108</text></g>
<g id="l70"><text class="b" transform="matrix(1.9 0 0 1 659 549.6)">0.032</text><use href="#bm" x="660" y="549.3"/><text class="t" transform="matrix(2.2 0 0 1 666 552.3)">Sain_Sain1g00429</text></g>
<g id="nM"><text class="b" transform="matrix(1.9 0 0 1 460 638.15)">0.0784</text><use href="#rs" x="428.6" y="639.45"/><use href="#rj" x="460" y="637.85"/></g>
<g id="l71"><text class="b" transform="matrix(1.9 0 0 1 549 557.5)">0.0873</text><use href="#bm" x="550" y="557.2"/><text class="t" transform="matrix(2.2 0 0 1 556 560.2)">Saly_Saly14g01458</text></g>
<g id="nMB"><text class="b" transform="matrix(1.9 0 0 1 498 718.8)">0.0329</text><use href="#rs" x="466.6" y="720.1"/><use href="#rj" x="498" y="718.5"/></g>
<g id="nMC"><text class="b" transform="matrix(1.9 0 0 1 541 597)">0.0372</text><use href="#rs" x="509.6" y="598.3"/><use href="#rj" x="541" y="596.7"/></g>
<g id="nMD"><text class="b" transform="matrix(1.9 0 0 1 578 581.2)">0.032</text><use href="#rs" x="551.8" y="582.5"/><use href="#rj" x="578" y="580.9"/></g>
<g id="nME"><text class="b" transform="matrix(1.9 0 0 1 615 569.35)">0.032</text><use href="#rs" x="588.8" y="570.65"/><use href="#rj" x="615" y="569.05"/></g>
<g id="l72"><text class="b" transform="matrix(1.9 0 0 1 656 565.4)">0.0346</text><use href="#bm" x="657" y="565.1"/><text class="t" transform="matrix(2.2 0 0 1 663 568.1)">Cicn_Cicn4g02775</text></g>
<g id="l73"><text class="b" transform="matrix(1.9 0 0 1 654 573.3)">0.0329</text><use href="#bm" x="655" y="573"/><text class="t" transform="matrix(2.2 0 0 1 661 576)">Cicn_Cicn4g01851</text></g>
<g id="nMF"><text class="b" transform="matrix(1.9 0 0 1 622 593.05)">0.0381</text><use href="#rs" x="590.6" y="594.35"/><use href="#rj" x="622" y="592.75"/></g>
<g id="nMG"><text class="b" transform="matrix(1.9 0 0 1 659 585.15)">0.032</text><use href="#rs" x="632.8" y="586.45"/><use href="#rj" x="659" y="584.85"/></g>
<g id="l74"><text class="b" transform="matrix(1.9 0 0 1 700 581.2)">0.0346</text><use href="#bm" x="701" y="580.9"/><text class="t" transform="matrix(2.2 0 0 1 707 583.9)">Tako_Tako5g01238</text></g>
<g id="l75"><text class="b" transform="matrix(1.9 0 0 1 688 589.1)">0.0242</text><use href="#bm" x="689" y="588.8"/><text class="t" transform="matrix(2.2 0 0 1 695 591.8)">Tamo_Tamo5g01584</text></g>
<g id="nMH"><text class="b" transform="matrix(1.9 0 0 1 659 600.95)">0.032</text><use href="#rs" x="632.8" y="602.25"/><use href="#rj" x="659" y="600.65"/></g>
<g id="l76"><text class="b" transform="matrix(1.9 0 0 1 700 597)">0.0346</text><use href="#bm" x="701" y="596.7"/><text class="t" transform="matrix(2.2 0 0 1 707 599.7)">Laca_Laca8g01864</text></g>
<g id="l77"><text class="b" transform="matrix(1.9 0 0 1 700 604.9)">0.0346</text><use href="#bm" x="701" y="604.6"/><text class="t" transform="matrix(2.2 0 0 1 707 607.6)">Lssa_Lssa8g01588</text></g>
<g id="l78"><text class="b" transform="matrix(1.9 0 0 1 579 612.8)">0.032</text><use href="#bm" x="580" y="612.5"/><text class="t" transform="matrix(2.2 0 0 1 586 615.5)">Cpa_Cpa1000582g00001</text></g>
<g id="nMCB"><text class="b" transform="matrix(1.9 0 0 1 534 840.6)">0.0312</text><use href="#rs" x="502.6" y="841.9"/><use href="#rj" x="534" y="840.3"/></g>
<g id="nMCA"><text class="b" transform="matrix(1.9 0 0 1 572 729)">0.0329</text><use href="#rs" x="540.6" y="730.3"/><use href="#rj" x="572" y="728.7"/></g>
<g id="nMI"><text class="b" transform="matrix(1.9 0 0 1 614 628.35)">0.0364</text><use href="#rs" x="582.6" y="629.65"/><use href="#rj" x="614" y="628.05"/></g>
<g id="l79"><text class="b" transform="matrix(1.9 0 0 1 688 620.7)">0.0632</text><use href="#bm" x="689" y="620.4"/><text class="t" transform="matrix(2.2 0 0 1 695 623.4)">Sesq_Sesq1000051g02407</text></g>
<g id="nMJ"><text class="b" transform="matrix(1.9 0 0 1 652 636)">0.0329</text><use href="#rs" x="620.6" y="637.3"/><use href="#rj" x="652" y="635.7"/></g>
<g id="l80"><text class="b" transform="matrix(1.9 0 0 1 697 628.6)">0.0381</text><use href="#bm" x="698" y="628.3"/><text class="t" transform="matrix(2.2 0 0 1 704 631.3)">Cali_Cali9g01441</text></g>
<g id="nMK"><text class="b" transform="matrix(1.9 0 0 1 695 643.4)">0.0372</text><use href="#rs" x="663.6" y="644.7"/><use href="#rj" x="695" y="643.1"/></g>
<g id="l81"><text class="b" transform="matrix(1.9 0 0 1 729 636.5)">0.0286</text><use href="#bm" x="730" y="636.2"/><text class="t" transform="matrix(2.2 0 0 1 736 639.2)">Ecar_Ecar13g01581</text></g>
<g id="nML"><text class="b" transform="matrix(1.9 0 0 1 733 650.3)">0.0329</text><use href="#rs" x="701.6" y="651.6"/><use href="#rj" x="733" y="650"/></g>
<g id="l82"><text class="b" transform="matrix(1.9 0 0 1 768 644.4)">0.0294</text><use href="#bm" x="769" y="644.1"/><text class="t" transform="matrix(2.2 0 0 1 775 647.1)">Sain_Sain4g01119</text></g>
<g id="nMM"><text class="b" transform="matrix(1.9 0 0 1 769 656.25)">0.0312</text><use href="#rs" x="737.6" y="657.55"/><use href="#rj" x="769" y="655.95"/></g>
<g id="l83"><text class="b" transform="matrix(1.9 0 0 1 811 652.3)">0.0355</text><use href="#bm" x="812" y="652"/><text class="t" transform="matrix(2.2 0 0 1 818 655)">Arla_Arla4g00964</text></g>
<g id="l84"><text class="b" transform="matrix(1.9 0 0 1 811 660.2)">0.0355</text><use href="#bm" x="812" y="659.9"/><text class="t" transform="matrix(2.2 0 0 1 818 662.9)">Amri_Amri1g00878</text></g>
<g id="nMY"><text class="b" transform="matrix(1.9 0 0 1 615 829.7)">0.0372</text><use href="#rs" x="583.6" y="831"/><use href="#rj" x="615" y="829.4"/></g>
<g id="nMX"><text class="b" transform="matrix(1.9 0 0 1 652 787.45)">0.032</text><use href="#rs" x="625.8" y="788.75"/><use href="#rj" x="652" y="787.15"/></g>
<g id="nMV"><text class="b" transform="matrix(1.9 0 0 1 694 725.1)">0.0364</text><use href="#rs" x="662.6" y="726.4"/><use href="#rj" x="694" y="724.8"/></g>
<g id="nMN"><text class="b" transform="matrix(1.9 0 0 1 736 679.2)">0.0364</text><use href="#rs" x="704.6" y="680.5"/><use href="#rj" x="736" y="678.9"/></g>
<g id="l85"><text class="b" transform="matrix(1.9 0 0 1 770 668.1)">0.0286</text><use href="#bm" x="771" y="667.8"/><text class="t" transform="matrix(2.2 0 0 1 777 670.8)">Frm_Frm1g01145</text></g>
<g id="nMO"><text class="b" transform="matrix(1.9 0 0 1 779 690.3)">0.0372</text><use href="#rs" x="747.6" y="691.6"/><use href="#rj" x="779" y="690"/></g>
<g id="l86"><text class="b" transform="matrix(1.9 0 0 1 815 676)">0.0303</text><use href="#bm" x="816" y="675.7"/><text class="t" transform="matrix(2.2 0 0 1 822 678.7)">Fsa_Fsa7g01582</text></g>
<g id="nMP"><text class="b" transform="matrix(1.9 0 0 1 822 704.6)">0.0372</text><use href="#rs" x="790.6" y="705.9"/><use href="#rj" x="822" y="704.3"/></g>
<g id="nMQ"><text class="b" transform="matrix(1.9 0 0 1 859 689.8)">0.032</text><use href="#rs" x="832.8" y="691.1"/><use href="#rj" x="859" y="689.5"/></g>
<g id="l87"><text class="b" transform="matrix(1.9 0 0 1 902 683.9)">0.0364</text><use href="#bm" x="903" y="683.6"/><text class="t" transform="matrix(2.2 0 0 1 909 686.6)">Eli_Eli1227077g00001</text></g>
<g id="nMS"><text class="b" transform="matrix(1.9 0 0 1 891 695.75)">1e-06</text><use href="#rs" x="864.8" y="697.05"/><use href="#rj" x="891" y="695.45"/></g>
<g id="l88"><text class="b" transform="matrix(1.9 0 0 1 932 691.8)">0.0346</text><use href="#bm" x="933" y="691.5"/><text class="t" transform="matrix(2.2 0 0 1 939 694.5)">Eli_Eli8g01420</text></g>
<g id="l89"><text class="b" transform="matrix(1.9 0 0 1 930 699.7)">1e-06</text><use href="#bm" x="931" y="699.4"/><text class="t" transform="matrix(2.2 0 0 1 937 702.4)">Eli_Eli1752581g00001</text></g>
<g id="nMR"><text class="b" transform="matrix(1.9 0 0 1 865 719.45)">0.0372</text><use href="#rs" x="833.6" y="720.75"/><use href="#rj" x="865" y="719.15"/></g>
<g id="nMT"><text class="b" transform="matrix(1.9 0 0 1 903 711.55)">0.0329</text><use href="#rs" x="871.6" y="712.85"/><use href="#rj" x="903" y="711.25"/></g>
<g id="l90"><text class="b" transform="matrix(1.9 0 0 1 944 707.6)">0.0346</text><use href="#bm" x="945" y="707.3"/><text class="t" transform="matrix(2.2 0 0 1 951 710.3)">Fra_Fra4g00110</text></g>
<g id="l91"><text class="b" transform="matrix(1.9 0 0 1 944 715.5)">0.0346</text><use href="#bm" x="945" y="715.2"/><text class="t" transform="matrix(2.2 0 0 1 951 718.2)">Fra_Fra17g01583</text></g>
<g id="nMU"><text class="b" transform="matrix(1.9 0 0 1 909 727.35)">0.0381</text><use href="#rs" x="877.6" y="728.65"/><use href="#rj" x="909" y="727.05"/></g>
<g id="l92"><text class="b" transform="matrix(1.9 0 0 1 944 723.4)">0.0294</text><use href="#bm" x="945" y="723.1"/><text class="t" transform="matrix(2.2 0 0 1 951 726.1)">Eli_Eli1154824g00001</text></g>
<g id="l93"><text class="b" transform="matrix(1.9 0 0 1 946 731.3)">0.0312</text><use href="#bm" x="947" y="731"/><text class="t" transform="matrix(2.2 0 0 1 953 734)">Eli_Eli1g01374</text></g>
<g id="nMW"><text class="b" transform="matrix(1.9 0 0 1 729 771)">0.0303</text><use href="#rs" x="698" y="772.3"/><use href="#rj" x="729" y="770.7"/></g>
<g id="l94"><text class="b" transform="matrix(1.9 0 0 1 966 739.2)">0.204</text><use href="#bm" x="967" y="738.9"/><text class="t" transform="matrix(2.2 0 0 1 973 741.9)">Mimi_Mimi1g00121</text></g>
<g id="nMAA"><text class="b" transform="matrix(1.9 0 0 1 773 802.8)">0.0381</text><use href="#rs" x="741.6" y="804.1"/><use href="#rj" x="773" y="802.5"/></g>
<g id="nMAB"><text class="b" transform="matrix(1.9 0 0 1 810 767.7)">0.032</text><use href="#rs" x="783.8" y="769"/><use href="#rj" x="810" y="767.4"/></g>
<g id="nMAD"><text class="b" transform="matrix(1.9 0 0 1 848 751.05)">0.0329</text><use href="#rs" x="816.6" y="752.35"/><use href="#rj" x="848" y="750.75"/></g>
<g id="l95"><text class="b" transform="matrix(1.9 0 0 1 891 747.1)">0.0364</text><use href="#bm" x="892" y="746.8"/><text class="t" transform="matrix(2.2 0 0 1 898 749.8)">Bapi_Bapi5g01145</text></g>
<g id="l96"><text class="b" transform="matrix(1.9 0 0 1 879 755)">1e-06</text><use href="#bm" x="880" y="754.7"/><text class="t" transform="matrix(2.2 0 0 1 886 757.7)">Bapi_Bapi1g01286</text></g>
<g id="nMAE"><text class="b" transform="matrix(1.9 0 0 1 855 784.35)">0.039</text><use href="#rs" x="828.8" y="785.65"/><use href="#rj" x="855" y="784.05"/></g>
<g id="nMAF"><text class="b" transform="matrix(1.9 0 0 1 897 768.8)">0.0364</text><use href="#rs" x="865.6" y="770.1"/><use href="#rj" x="897" y="768.5"/></g>
<g id="l97"><text class="b" transform="matrix(1.9 0 0 1 936 762.9)">0.0329</text><use href="#bm" x="937" y="762.6"/><text class="t" transform="matrix(2.2 0 0 1 943 765.6)">Cobi_Cobi9g01480</text></g>
<g id="nMAH"><text class="b" transform="matrix(1.9 0 0 1 934 774.75)">0.032</text><use href="#rs" x="907.8" y="776.05"/><use href="#rj" x="934" y="774.45"/></g>
<g id="l98"><text class="b" transform="matrix(1.9 0 0 1 981 770.8)">0.0398</text><use href="#bm" x="982" y="770.5"/><text class="t" transform="matrix(2.2 0 0 1 988 773.5)">Bial_Bial2g01808</text></g>
<g id="l99"><text class="b" transform="matrix(1.9 0 0 1 981 778.7)">0.0398</text><use href="#bm" x="982" y="778.4"/><text class="t" transform="matrix(2.2 0 0 1 988 781.4)">Bial_Bial1g01886</text></g>
<g id="nMAG"><text class="b" transform="matrix(1.9 0 0 1 892 799.9)">0.032</text><use href="#rs" x="865.8" y="801.2"/><use href="#rj" x="892" y="799.6"/></g>
<g id="nMAI"><text class="b" transform="matrix(1.9 0 0 1 931 790.55)">0.0338</text><use href="#rs" x="899.6" y="791.85"/><use href="#rj" x="931" y="790.25"/></g>
<g id="l100"><text class="b" transform="matrix(1.9 0 0 1 966 786.6)">0.0294</text><use href="#bm" x="967" y="786.3"/><text class="t" transform="matrix(2.2 0 0 1 973 789.3)">Amar_Amar1000035g00001</text></g>
<g id="l101"><text class="b" transform="matrix(1.9 0 0 1 960 794.5)">0.0242</text><use href="#bm" x="961" y="794.2"/><text class="t" transform="matrix(2.2 0 0 1 967 797.2)">Amri_Amri14g02479</text></g>
<g id="nMAK"><text class="b" transform="matrix(1.9 0 0 1 937 809.3)">0.039</text><use href="#rs" x="910.8" y="810.6"/><use href="#rj" x="937" y="809"/></g>
<g id="l102"><text class="b" transform="matrix(1.9 0 0 1 979 802.4)">0.0355</text><use href="#bm" x="980" y="802.1"/><text class="t" transform="matrix(2.2 0 0 1 986 805.1)">Heiu_Heiu4g02237</text></g>
<g id="nMAL"><text class="b" transform="matrix(1.9 0 0 1 978 816.2)">0.0355</text><use href="#rs" x="946.6" y="817.5"/><use href="#rj" x="978" y="815.9"/></g>
<g id="l103"><text class="b" transform="matrix(1.9 0 0 1 1015 810.3)">0.0312</text><use href="#bm" x="1016" y="810"/><text class="t" transform="matrix(2.2 0 0 1 1022 813)">Heiu_Heiu1g02285</text></g>
<g id="nMAM"><text class="b" transform="matrix(1.9 0 0 1 1012 822.15)">1e-06</text><use href="#rs" x="985.8" y="823.45"/><use href="#rj" x="1012" y="821.85"/></g>
<g id="l104"><text class="b" transform="matrix(1.9 0 0 1 1058 818.2)">0.039</text><use href="#bm" x="1059" y="817.9"/><text class="t" transform="matrix(2.2 0 0 1 1065 820.9)">Hean_Hean17g02580</text></g>
<g id="l105"><text class="b" transform="matrix(1.9 0 0 1 1058 826.1)">0.039</text><use href="#bm" x="1059" y="825.8"/><text class="t" transform="matrix(2.2 0 0 1 1065 828.8)">Heiu_Heiu5g01970</text></g>
<g id="nMAC"><text class="b" transform="matrix(1.9 0 0 1 811 837.95)">0.0329</text><use href="#rs" x="779.6" y="839.25"/><use href="#rj" x="811" y="837.65"/></g>
<g id="l106"><text class="b" transform="matrix(1.9 0 0 1 853 834)">0.0355</text><use href="#bm" x="854" y="833.7"/><text class="t" transform="matrix(2.2 0 0 1 860 836.7)">Smsn_Smsn16g01452</text></g>
<g id="l107"><text class="b" transform="matrix(1.9 0 0 1 847 841.9)">0.0303</text><use href="#bm" x="848" y="841.6"/><text class="t" transform="matrix(2.2 0 0 1 854 844.6)">Smsn_Smsn11g02414</text></g>
<g id="l108"><text class="b" transform="matrix(1.9 0 0 1 742 849.8)">0.0771</text><use href="#bm" x="743" y="849.5"/><text class="t" transform="matrix(2.2 0 0 1 749 852.5)">Pin_Pina2g00008</text></g>
<g id="nMZ"><text class="b" transform="matrix(1.9 0 0 1 652 872)">0.032</text><use href="#rs" x="625.8" y="873.3"/><use href="#rj" x="652" y="871.7"/></g>
<g id="nMBA"><text class="b" transform="matrix(1.9 0 0 1 741 861.65)">0.0771</text><use href="#rs" x="709.6" y="862.95"/><use href="#rj" x="741" y="861.35"/></g>
<g id="l109"><text class="b" transform="matrix(1.9 0 0 1 772 857.7)">1e-06</text><use href="#bm" x="773" y="857.4"/><text class="t" transform="matrix(2.2 0 0 1 779 860.4)">Scae_Scae1000827g00001</text></g>
<g id="l110"><text class="b" transform="matrix(1.9 0 0 1 776 865.6)">0.0294</text><use href="#bm" x="777" y="865.3"/><text class="t" transform="matrix(2.2 0 0 1 783 868.3)">Saca_Saca1g00514</text></g>
<g id="nMBB"><text class="b" transform="matrix(1.9 0 0 1 692 882.4)">0.0346</text><use href="#rs" x="660.6" y="883.7"/><use href="#rj" x="692" y="882.1"/></g>
<g id="l111"><text class="b" transform="matrix(1.9 0 0 1 734 873.5)">0.0355</text><use href="#bm" x="735" y="873.2"/><text class="t" transform="matrix(2.2 0 0 1 741 876.2)">Lami_Lami2g01143</text></g>
<g id="nMBC"><text class="b" transform="matrix(1.9 0 0 1 729 891.3)">0.032</text><use href="#rs" x="702.8" y="892.6"/><use href="#rj" x="729" y="891"/></g>
<g id="nMBD"><text class="b" transform="matrix(1.9 0 0 1 766 885.35)">0.032</text><use href="#rs" x="739.8" y="886.65"/><use href="#rj" x="766" y="885.05"/></g>
<g id="l112"><text class="b" transform="matrix(1.9 0 0 1 804 881.4)">0.032</text><use href="#bm" x="805" y="881.1"/><text class="t" transform="matrix(2.2 0 0 1 811 884.1)">Heub_Heub1000001.1g03738</text></g>
<g id="l113"><text class="b" transform="matrix(1.9 0 0 1 804 889.3)">0.032</text><use href="#bm" x="805" y="889"/><text class="t" transform="matrix(2.2 0 0 1 811 892)">Pslu_Pslu1g04468</text></g>
<g id="l114"><text class="b" transform="matrix(1.9 0 0 1 766 897.2)">0.0312</text><use href="#bm" x="767" y="896.9"/><text class="t" transform="matrix(2.2 0 0 1 773 899.9)">Lami_Lami1g04375</text></g>
<g id="nMDA"><text class="b" transform="matrix(1.9 0 0 1 597 952.15)">0.0545</text><use href="#rs" x="565.6" y="953.45"/><use href="#rj" x="597" y="951.85"/></g>
<g id="nMDB"><text class="b" transform="matrix(1.9 0 0 1 630 915)">1e-06</text><use href="#rs" x="603.8" y="916.3"/><use href="#rj" x="630" y="914.7"/></g>
<g id="l115"><text class="b" transform="matrix(1.9 0 0 1 661 905.1)">1e-06</text><use href="#bm" x="662" y="904.8"/><text class="t" transform="matrix(2.2 0 0 1 668 907.8)">Chla_Chla6g03292</text></g>
<g id="nMDD"><text class="b" transform="matrix(1.9 0 0 1 662 924.85)">1e-06</text><use href="#rs" x="635.8" y="926.15"/><use href="#rj" x="662" y="924.55"/></g>
<g id="l116"><text class="b" transform="matrix(1.9 0 0 1 703 913)">0.0346</text><use href="#bm" x="704" y="912.7"/><text class="t" transform="matrix(2.2 0 0 1 710 915.7)">Chma_Chma8g01177</text></g>
<g id="nMDE"><text class="b" transform="matrix(1.9 0 0 1 706 936.7)">0.0381</text><use href="#rs" x="674.6" y="938"/><use href="#rj" x="706" y="936.4"/></g>
<g id="l117"><text class="b" transform="matrix(1.9 0 0 1 748 920.9)">0.0355</text><use href="#bm" x="749" y="920.6"/><text class="t" transform="matrix(2.2 0 0 1 755 923.6)">Chla_Chla6g05348</text></g>
<g id="nMDF"><text class="b" transform="matrix(1.9 0 0 1 737 952.5)">1e-06</text><use href="#rs" x="710.8" y="953.8"/><use href="#rj" x="737" y="952.2"/></g>
<g id="nMDG"><text class="b" transform="matrix(1.9 0 0 1 781 944.6)">0.0381</text><use href="#rs" x="749.6" y="945.9"/><use href="#rj" x="781" y="944.3"/></g>
<g id="nMDH"><text class="b" transform="matrix(1.9 0 0 1 824 936.7)">0.0372</text><use href="#rs" x="792.6" y="938"/><use href="#rj" x="824" y="936.4"/></g>
<g id="l118"><text class="b" transform="matrix(1.9 0 0 1 833 928.8)">0</text><use href="#bm" x="834" y="928.5"/><text class="t" transform="matrix(2.2 0 0 1 840 931.5)">Chma_Chma17g04269</text></g>
<g id="l119"><text class="b" transform="matrix(1.9 0 0 1 833 936.7)">0</text><use href="#bm" x="834" y="936.4"/><text class="t" transform="matrix(2.2 0 0 1 840 939.4)">Chma_Chmascaffold_5513__fragment_1g00002</text></g>
<g id="l120"><text class="b" transform="matrix(1.9 0 0 1 833 944.6)">0</text><use href="#bm" x="834" y="944.3"/><text class="t" transform="matrix(2.2 0 0 1 840 947.3)">Chmo_Chmo18g00758</text></g>
<g id="l121"><text class="b" transform="matrix(1.9 0 0 1 813 952.5)">0.0268</text><use href="#bm" x="814" y="952.2"/><text class="t" transform="matrix(2.2 0 0 1 820 955.2)">Chmo_Chmo18g03779</text></g>
<g id="l122"><text class="b" transform="matrix(1.9 0 0 1 782 960.4)">0.0381</text><use href="#bm" x="783" y="960.1"/><text class="t" transform="matrix(2.2 0 0 1 789 963.1)">Chma_Chma13g03770</text></g>
<g id="nMDC"><text class="b" transform="matrix(1.9 0 0 1 642 989.3)">0.039</text><use href="#rs" x="615.8" y="990.6"/><use href="#rj" x="642" y="989"/></g>
<g id="nMDI"><text class="b" transform="matrix(1.9 0 0 1 685 974.2)">0.0372</text><use href="#rs" x="653.6" y="975.5"/><use href="#rj" x="685" y="973.9"/></g>
<g id="l123"><text class="b" transform="matrix(1.9 0 0 1 717 968.3)">1e-06</text><use href="#bm" x="718" y="968"/><text class="t" transform="matrix(2.2 0 0 1 724 971)">Chma_Chma9g02585</text></g>
<g id="nMDK"><text class="b" transform="matrix(1.9 0 0 1 728 980.15)">0.0372</text><use href="#rs" x="696.6" y="981.45"/><use href="#rj" x="728" y="979.85"/></g>
<g id="l124"><text class="b" transform="matrix(1.9 0 0 1 760 976.2)">1e-06</text><use href="#bm" x="761" y="975.9"/><text class="t" transform="matrix(2.2 0 0 1 767 978.9)">Chmo_Chmo8g02546</text></g>
<g id="l125"><text class="b" transform="matrix(1.9 0 0 1 768 984.1)">0.0338</text><use href="#bm" x="769" y="983.8"/><text class="t" transform="matrix(2.2 0 0 1 775 986.8)">Chma_Chma9g02413</text></g>
<g id="nMDJ"><text class="b" transform="matrix(1.9 0 0 1 673 1004.35)">1e-06</text><use href="#rs" x="646.8" y="1005.65"/><use href="#rj" x="673" y="1004.05"/></g>
<g id="l126"><text class="b" transform="matrix(1.9 0 0 1 711 992)">0.032</text><use href="#bm" x="712" y="991.7"/><text class="t" transform="matrix(2.2 0 0 1 718 994.7)">Aann_Aann5g03707</text></g>
<g id="nMDL"><text class="b" transform="matrix(1.9 0 0 1 722 1016.7)">0.0424</text><use href="#rs" x="690.6" y="1018"/><use href="#rj" x="722" y="1016.4"/></g>
<g id="nMDM"><text class="b" transform="matrix(1.9 0 0 1 754 1009.8)">0.0277</text><use href="#rs" x="726" y="1011.1"/><use href="#rj" x="754" y="1009.5"/></g>
<g id="nMDN"><text class="b" transform="matrix(1.9 0 0 1 792 1003.85)">0.0329</text><use href="#rs" x="760.6" y="1005.15"/><use href="#rj" x="792" y="1003.55"/></g>
<g id="l127"><text class="b" transform="matrix(1.9 0 0 1 821 999.9)">1e-06</text><use href="#bm" x="822" y="999.6"/><text class="t" transform="matrix(2.2 0 0 1 828 1002.6)">Aary_Aary8g01264</text></g>
<g id="l128"><text class="b" transform="matrix(1.9 0 0 1 833 1007.8)">0.0346</text><use href="#bm" x="834" y="1007.5"/><text class="t" transform="matrix(2.2 0 0 1 840 1010.5)">Aary_Aary17g01377</text></g>
<g id="l129"><text class="b" transform="matrix(1.9 0 0 1 796 1015.7)">0.0355</text><use href="#bm" x="797" y="1015.4"/><text class="t" transform="matrix(2.2 0 0 1 803 1018.4)">Arir_Arir1g05895</text></g>
<g id="l130"><text class="b" transform="matrix(1.9 0 0 1 758 1023.6)">0.0303</text><use href="#bm" x="759" y="1023.3"/><text class="t" transform="matrix(2.2 0 0 1 765 1026.3)">Sico_Sico7g05880</text></g>
<g id="scale"><path class="br" d="M10 1028H68M10 1026V1030M68 1026V1030"/><text class="b s" transform="matrix(1.9 0 0 1 11 1035.5)">0.05</text></g>
</svg>
